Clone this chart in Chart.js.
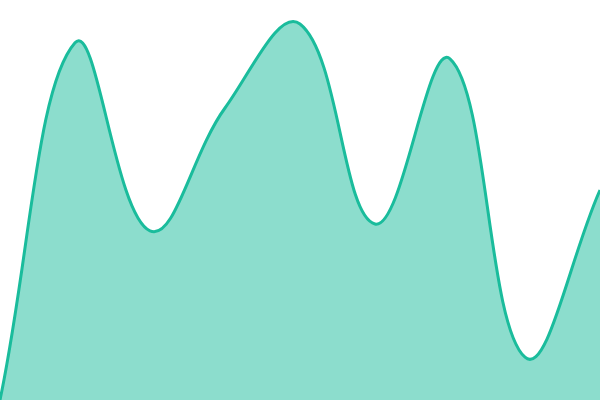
<!DOCTYPE html>
<html>
<head>
<meta charset="utf-8">
<script src="https://cdn.jsdelivr.net/npm/chart.js@4/dist/chart.umd.min.js"></script>
<style>
  html, body { margin: 0; padding: 0; background: #fff; }
  #wrap { width: 600px; height: 400px; }
</style>
</head>
<body>
<div id="wrap"><canvas id="areaChart"></canvas></div>
<script>
const labels = ['1', '2', '3', '4', '5', '6', '7', '8', '9'];
const values = [0, 89.3, 42.3, 73, 94, 44, 85.3, 10.7, 52.5];
const yMin = 0;
const yMax = 100;

new Chart(document.getElementById('areaChart'), {
  type: 'line',
  data: {
    labels: labels,
    datasets: [{
      data: values,
      borderColor: '#1abc9c',
      backgroundColor: 'rgba(26,188,156,0.5)',
      borderWidth: 3,
      fill: 'origin',
      tension: 0.4,
      pointRadius: 0,
    }]
  },
  options: {
    responsive: true,
    maintainAspectRatio: false,
    animation: false,
    layout: { padding: 0 },
    plugins: { legend: { display: false }, tooltip: { enabled: false } },
    scales: {
      x: { display: false },
      y: { display: false, min: yMin, max: yMax }
    }
  }
});
</script>
</body>
</html>
